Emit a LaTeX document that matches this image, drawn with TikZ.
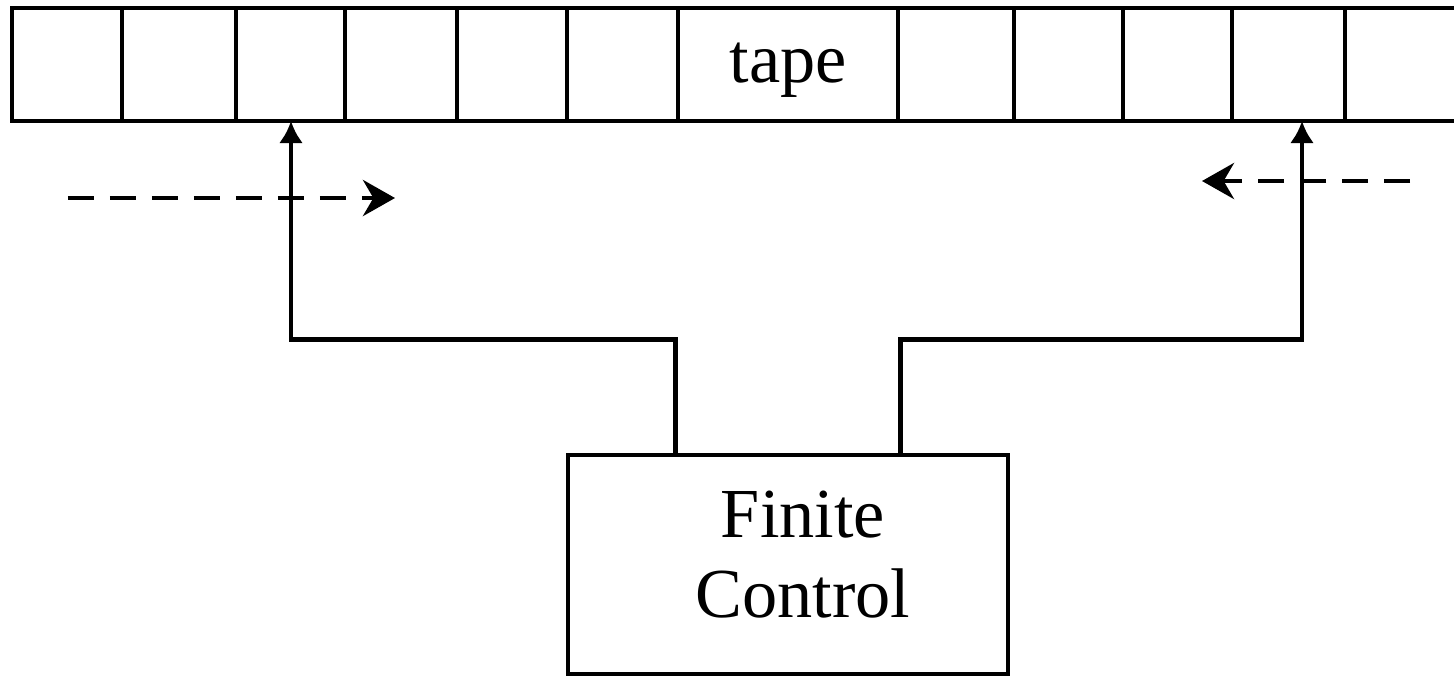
\documentclass[tikz,border=0pt]{standalone}
\usepackage{fontspec}
\setmainfont{Liberation Serif}
\usetikzlibrary{arrows.meta, calc}

\tikzset{
  cell/.style={line width=1.4pt},
  ctrlbox/.style={draw, line width=1.4pt, minimum width=4.4cm, minimum height=2.19cm, inner sep=0pt},
  link/.style={line width=1.4pt, -{Latex[length=0.22cm,width=0.24cm]}},
  move/.style={line width=1.4pt, dash pattern=on 0.26cm off 0.16cm, -{Stealth[length=0.32cm,width=0.36cm]}},
  lbl/.style={font=\fontsize{20}{23}\selectfont, inner sep=0pt}
}

\begin{document}
\begin{tikzpicture}
  \useasboundingbox (0,0) rectangle (14.54,6.77);

  % Tape (open on the right)
  \draw[cell] (14.54,6.69) -- (0.12,6.69) -- (0.12,5.56) -- (14.54,5.56);
  \foreach \x in {1.22,2.36,3.45,4.57,5.67,6.78,8.98,10.14,11.23,12.32,13.45}
    \draw[cell] (\x,5.56) -- (\x,6.69);
  \node[lbl, anchor=base] (tapelabel) at (7.88,5.95) {tape};

  % read/write heads on the tape
  \coordinate (headL) at (2.91,5.56);
  \coordinate (headR) at (13.02,5.56);

  % Finite control
  \node[ctrlbox] (ctrl) at (7.88,1.125) {};
  \node[lbl, align=center] (ctrllabel) at ($(ctrl.center)+(0.15,0.1)$) {Finite\\Control};

  \draw[link] ([xshift=1.1cm]ctrl.north west) -- ++(0,1.13) -| (headL);
  \draw[link] ([xshift=3.35cm]ctrl.north west) -- ++(0,1.13) -| (headR);

  % head movement
  \coordinate (mvL) at (0.68,4.79);
  \coordinate (mvR) at (14.10,4.96);
  \draw[move] (mvL) -- ++(3.27,0);
  \draw[move] (mvR) -- ++(-2.08,0);
\end{tikzpicture}
\end{document}
